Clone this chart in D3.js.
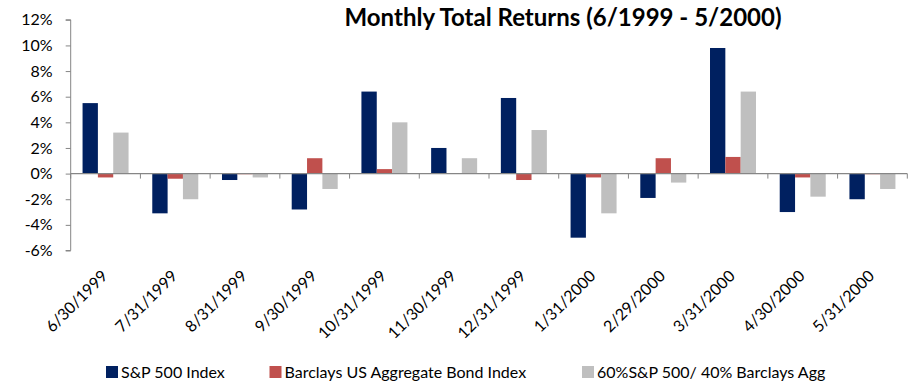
<!DOCTYPE html>
<html>
<head>
<meta charset="utf-8">
<script src="https://cdn.jsdelivr.net/npm/d3@7/dist/d3.min.js"></script>
<style>
  html, body { margin: 0; padding: 0; background: #fff; }
  svg { display: block; font-family: Lato, "Open Sans", sans-serif; }
</style>
</head>
<body>
<svg id="chart" width="914" height="383"></svg>
<script>
// Month-end dates
const categories = ["6/30/1999", "7/31/1999", "8/31/1999", "9/30/1999", "10/31/1999", "11/30/1999",
  "12/31/1999", "1/31/2000", "2/29/2000", "3/31/2000", "4/30/2000", "5/31/2000"];

// Monthly total returns, in percent
const sp500 = [5.5, -3.1, -0.5, -2.8, 6.4, 2.0, 5.9, -5.0, -1.9, 9.8, -3.0, -2.0];
const aggBond = [-0.3, -0.4, -0.05, 1.2, 0.35, -0.02, -0.5, -0.3, 1.2, 1.3, -0.3, -0.05];
const blend6040 = [3.2, -2.0, -0.3, -1.2, 4.0, 1.2, 3.4, -3.1, -0.7, 6.4, -1.8, -1.2];

const seriesNames = ["S&P 500 Index", "Barclays US Aggregate Bond Index", "60%S&P 500/ 40% Barclays Agg"];
const seriesColors = ["#002060", "#C0504D", "#BFBFBF"];
const yTicks = [-6, -4, -2, 0, 2, 4, 6, 8, 10, 12];

const titleText = "Monthly Total Returns (6/1999 - 5/2000)";

const svg = d3.select("#chart");
const axisColor = "#868686";

const plot = { left: 70.7, right: 907.3, top: 19.8, bottom: 250.5 };

const x = d3.scaleBand().domain(categories).range([plot.left, plot.right]).paddingInner(0).paddingOuter(0);
const groupWidth = 46;
const xs = d3.scaleBand().domain(d3.range(3)).range([0, groupWidth]).padding(0);
const y = d3.scaleLinear().domain([-6, 12]).range([plot.bottom, plot.top]);

const rows = categories.map((c, i) => ({ cat: c, vals: [sp500[i], aggBond[i], blend6040[i]] }));

// Bars
const groups = svg.append("g").selectAll("g").data(rows).join("g")
  .attr("transform", d => `translate(${x(d.cat) + (x.bandwidth() - groupWidth) / 2},0)`);

groups.selectAll("rect").data(d => d.vals.map((v, k) => ({ v, k }))).join("rect")
  .attr("x", d => xs(d.k))
  .attr("width", xs.bandwidth())
  .attr("y", d => y(Math.max(0, d.v)))
  .attr("height", d => Math.abs(y(d.v) - y(0)))
  .attr("fill", d => seriesColors[d.k]);

// Y axis
const yAxis = d3.axisLeft(y).tickValues(yTicks).tickSize(5).tickPadding(13)
  .tickFormat(d => d + "%");
const yg = svg.append("g").attr("transform", `translate(${plot.left},0)`).call(yAxis);
yg.select(".domain").attr("stroke", axisColor).attr("d", `M-5,${plot.top}H0V${plot.bottom}H-5`);
yg.selectAll(".tick line").attr("stroke", axisColor);
yg.selectAll(".tick text").attr("fill", "#000").style("font-size", "16px")
  .style("font-family", "Lato, sans-serif");

// X axis at zero, with ticks on category boundaries
const xg = svg.append("g");
xg.append("line")
  .attr("x1", plot.left).attr("x2", plot.right)
  .attr("y1", y(0)).attr("y2", y(0))
  .attr("stroke", axisColor).attr("stroke-width", 1.2);
xg.selectAll("line.tk").data(d3.range(categories.length + 1)).join("line")
  .attr("class", "tk")
  .attr("x1", i => plot.left + i * x.bandwidth())
  .attr("x2", i => plot.left + i * x.bandwidth())
  .attr("y1", y(0)).attr("y2", y(0) + 5)
  .attr("stroke", axisColor);

// Rotated category labels
svg.append("g").selectAll("text").data(categories).join("text")
  .attr("transform", d => `translate(${x(d) + x.bandwidth() / 2 + 3},277) rotate(-45)`)
  .attr("text-anchor", "end")
  .style("font-size", "16px")
  .attr("fill", "#000")
  .text(d => d);

// Title
const title = svg.append("text")
  .attr("x", 563).attr("y", 26)
  .attr("text-anchor", "middle")
  .style("font-size", "23px")
  .style("font-weight", "bold")
  .attr("fill", "#000")
  .text(titleText);
const tw = title.node().getComputedTextLength();
title.style("font-size", (23 * 437 / tw).toFixed(2) + "px");

// Legend
const legendX = [106, 269.5, 582];
const legend = svg.append("g").selectAll("g").data(seriesNames).join("g")
  .attr("transform", (d, i) => `translate(${legendX[i]},366)`);
legend.append("rect").attr("width", 12).attr("height", 12)
  .attr("fill", (d, i) => seriesColors[i]);
legend.append("text").attr("x", 15).attr("y", 11.5)
  .style("font-size", "16px").attr("fill", "#000")
  .text(d => d);
</script>
</body>
</html>
